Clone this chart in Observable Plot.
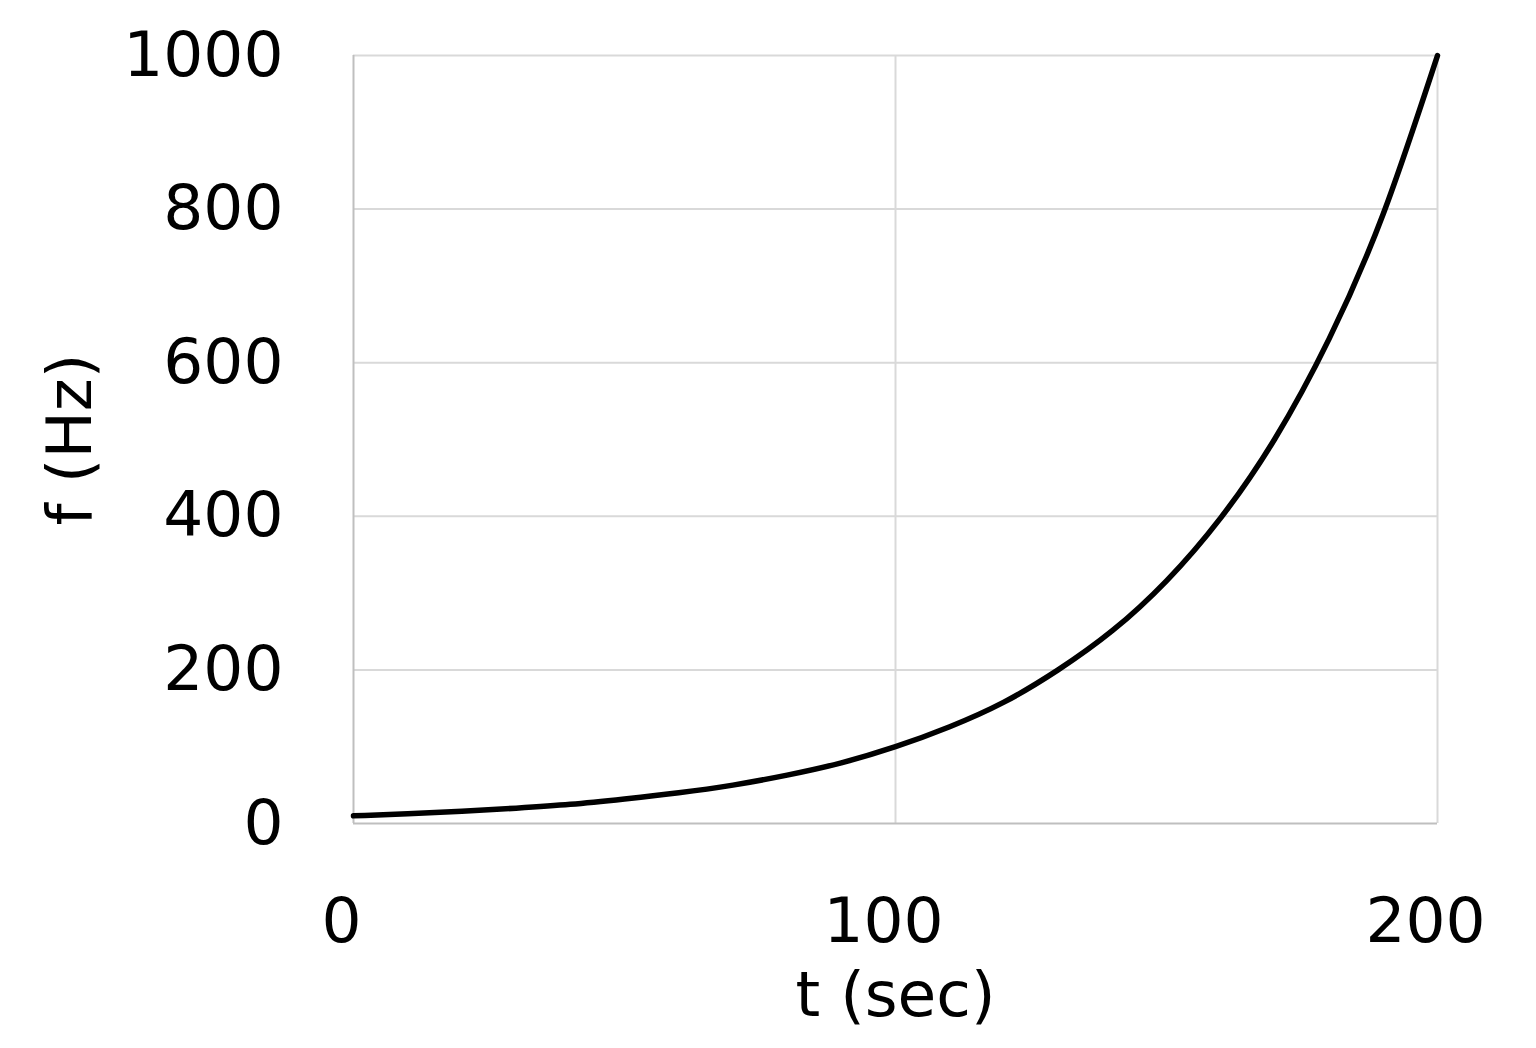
<!DOCTYPE html>
<html>
<head>
<meta charset="utf-8">
<script src="https://cdn.jsdelivr.net/npm/d3@7"></script>
<script src="https://cdn.jsdelivr.net/npm/@observablehq/plot@0.6"></script>
<style>
  html, body { margin: 0; padding: 0; background: #fff; }
  #chart svg { display: block; }
</style>
</head>
<body>
<div id="chart"></div>
<script>
// Data
const times = [0, 10, 20, 30, 40, 50, 60, 70, 80, 90, 100, 110, 120, 130, 140, 150, 160, 170, 180, 190, 200];
const freqs = [10, 12.6, 15.8, 20, 25, 32, 40, 50, 63, 79, 100, 126, 158, 200, 251, 316, 398, 501, 631, 794, 1000];
const xTicks = [0, 100, 200];
const yTicks = [0, 200, 400, 600, 800, 1000];
const xLabel = "t (sec)";
const yLabel = "f (Hz)";

const data = times.map((t, i) => ({t, f: freqs[i]}));

const chart = Plot.plot({
  width: 1536,
  height: 1048,
  marginLeft: 353,
  marginRight: 99,
  marginTop: 55,
  marginBottom: 225,
  style: {fontFamily: "DejaVu Sans, Verdana, sans-serif", fontSize: "63px", color: "#000", background: "#fff"},
  x: {domain: [0, 200], ticks: xTicks},
  y: {domain: [0, 1000], ticks: yTicks},
  marks: [
    Plot.gridX(xTicks.filter(d => d !== 0), {stroke: "#d9d9d9", strokeOpacity: 1, strokeWidth: 2}),
    Plot.gridY(yTicks.filter(d => d !== 0), {stroke: "#d9d9d9", strokeOpacity: 1, strokeWidth: 2}),
    Plot.ruleX([0], {stroke: "#bfbfbf", strokeWidth: 2}),
    Plot.ruleY([0], {stroke: "#bfbfbf", strokeWidth: 2}),
    Plot.axisY(yTicks, {tickSize: 0, tickPadding: 70, fontSize: 63, label: null, tickFormat: d => String(d)}),
    Plot.axisX(xTicks, {tickSize: 0, tickPadding: 74, fontSize: 63, dx: -12, label: null, tickFormat: d => String(d)}),
    Plot.line(data, {x: "t", y: "f", stroke: "#000", strokeWidth: 5.5, curve: "natural"}),
    Plot.text([xLabel], {frameAnchor: "bottom", dy: 172, fontSize: 63, lineAnchor: "middle", textAnchor: "middle", fill: "#000"}),
    Plot.text([yLabel], {frameAnchor: "left", dx: -283, rotate: -90, fontSize: 63, lineAnchor: "middle", textAnchor: "middle", fill: "#000"})
  ]
});
document.getElementById("chart").appendChild(chart);
</script>
</body>
</html>
